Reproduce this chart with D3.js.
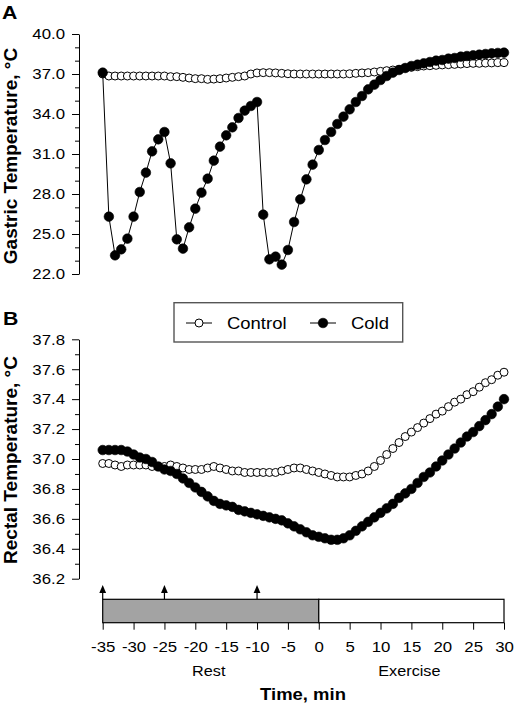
<!DOCTYPE html>
<html><head><meta charset="utf-8">
<script src="https://cdn.jsdelivr.net/npm/d3@7"></script>
<style>body{margin:0;background:#fff}svg{display:block}text{font-family:"Liberation Sans",Arial,sans-serif;fill:#000}</style>
</head><body><svg id="c" width="514" height="703"></svg>
<script>
// ---------- data ----------
const minutes = [-35,-34,-33,-32,-31,-30,-29,-28,-27,-26,-25,-24,-23,-22,-21,-20,-19,-18,-17,-16,-15,-14,-13,-12,-11,-10,-9,-8,-7,-6,-5,-4,-3,-2,-1,0,1,2,3,4,5,6,7,8,9,10,11,12,13,14,15,16,17,18,19,20,21,22,23,24,25,26,27,28,29,30];
const gastricControl = [37.0,36.85,36.85,36.85,36.85,36.85,36.85,36.85,36.85,36.85,36.85,36.8,36.8,36.75,36.7,36.65,36.65,36.6,36.62,36.65,36.7,36.75,36.8,36.85,37.0,37.08,37.1,37.1,37.08,37.05,37.02,37.0,37.0,37.0,37.0,37.0,37.0,37.0,37.0,37.0,37.02,37.05,37.08,37.1,37.15,37.2,37.25,37.3,37.35,37.45,37.5,37.55,37.6,37.62,37.65,37.68,37.7,37.72,37.75,37.78,37.8,37.8,37.82,37.83,37.85,37.85];
const gastricCold = [37.1,26.3,23.4,23.85,24.65,26.3,28.15,29.6,31.2,32.1,32.65,30.3,24.6,23.9,25.5,26.9,28.1,29.15,30.5,31.55,32.4,33.0,33.7,34.25,34.6,34.9,26.45,23.1,23.3,22.7,23.8,25.9,27.6,29.1,30.2,31.3,32.05,32.65,33.25,33.8,34.35,34.9,35.35,35.85,36.2,36.55,36.85,37.1,37.3,37.45,37.6,37.7,37.8,37.9,38.0,38.05,38.15,38.2,38.3,38.35,38.4,38.45,38.5,38.55,38.58,38.6];
const rectalControl = [36.97,36.97,36.96,36.95,36.96,36.96,36.96,36.96,36.95,36.95,36.95,36.96,36.95,36.94,36.93,36.93,36.93,36.94,36.95,36.94,36.93,36.92,36.92,36.91,36.91,36.91,36.91,36.91,36.91,36.92,36.93,36.94,36.94,36.93,36.92,36.91,36.9,36.89,36.88,36.88,36.88,36.89,36.9,36.92,36.95,36.99,37.03,37.07,37.11,37.15,37.18,37.21,37.24,37.27,37.3,37.32,37.35,37.38,37.4,37.43,37.45,37.48,37.51,37.53,37.56,37.58];
const rectalCold = [37.06,37.06,37.06,37.06,37.05,37.03,37.01,37.0,36.98,36.95,36.93,36.92,36.9,36.87,36.84,36.81,36.78,36.75,36.72,36.7,36.69,36.68,36.66,36.65,36.64,36.63,36.62,36.61,36.6,36.59,36.57,36.55,36.53,36.51,36.49,36.48,36.47,36.46,36.46,36.47,36.49,36.52,36.55,36.58,36.61,36.64,36.67,36.7,36.74,36.77,36.8,36.84,36.88,36.91,36.95,36.99,37.03,37.07,37.11,37.15,37.18,37.22,37.26,37.3,37.35,37.4];
const timeTicks = [-35,-30,-25,-20,-15,-10,-5,0,5,10,15,20,25,30];
const gastricTicks = [22,25,28,31,34,37,40];
const gastricMinor = [23,24,26,27,29,30,32,33,35,36,38,39];
const rectalTicks = [36.2,36.4,36.6,36.8,37.0,37.2,37.4,37.6,37.8];
const rectalMinor = [36.3,36.5,36.7,36.9,37.1,37.3,37.5,37.7];
const arrowTimes = [-35,-25,-10];
const phaseNames = ["Rest","Exercise"];
const phaseStart = [-35,0];
const phaseEnd = [0,30];
const phaseFill = ["#a3a3a3","#ffffff"];
const seriesNames = ["Control","Cold"];

// ---------- layout ----------
const SX = 1.12;
const FONT_TICK = 15;
const svg = d3.select("#c");
svg.append("rect").attr("width",514).attr("height",703).attr("fill","#fff");

const x = d3.scaleLinear().domain([-35,30]).range([102.7,504]);
const yA = d3.scaleLinear().domain([22,40]).range([274,34]);
const yB = d3.scaleLinear().domain([36.2,37.8]).range([578.7,339.3]);

function stext(parent,x0,y0,str,size,weight,anchor,sx){
  return parent.append("text")
    .attr("transform",`translate(${x0},${y0}) scale(${sx},1)`)
    .attr("text-anchor",anchor).attr("font-size",size).attr("font-weight",weight).text(str);
}

function yAxis(scale,major,minor,fmt){
  const g = svg.append("g").attr("transform","translate(79,0)");
  g.call(d3.axisLeft(scale).tickValues(major).tickSize(7).tickSizeOuter(0).tickPadding(7).tickFormat(d3.format(fmt)));
  g.call(s=>s.selectAll("text").attr("font-size",FONT_TICK).attr("fill","#000")
     .attr("font-family",null).attr("x",-14/SX).attr("transform",`scale(${SX},1)`));
  g.selectAll("line").attr("stroke","#000");
  g.select(".domain").attr("stroke","#000");
  const m = svg.append("g").attr("transform","translate(79,0)")
    .call(d3.axisLeft(scale).tickValues(minor).tickSize(4).tickFormat(""));
  m.select(".domain").remove();
  m.selectAll("line").attr("stroke","#000");
}
yAxis(yA,gastricTicks,gastricMinor,".1f");
yAxis(yB,rectalTicks,rectalMinor,".1f");

function series(yS,vals,filled){
  const g = svg.append("g");
  const line = d3.line().x((d,i)=>x(minutes[i])).y(d=>yS(d));
  g.append("path").attr("d",line(vals)).attr("fill","none").attr("stroke","#000").attr("stroke-width",1);
  g.selectAll("circle").data(vals).join("circle")
    .attr("cx",(d,i)=>x(minutes[i])).attr("cy",d=>yS(d))
    .attr("r",filled?4.8:4)
    .attr("fill",filled?"#000":"#fff").attr("stroke","#000").attr("stroke-width",filled?0.6:1);
}
series(yA,gastricControl,false);
series(yA,gastricCold,true);
series(yB,rectalControl,false);
series(yB,rectalCold,true);

// panel labels
stext(svg,2,18.5,"A",19,"bold","start",SX);
stext(svg,3,325,"B",19,"bold","start",SX);

// y titles
svg.append("text").attr("transform","translate(16.7,156) rotate(-90)")
  .attr("text-anchor","middle").attr("font-size",19).attr("font-weight","bold").text("Gastric Temperature, °C");
svg.append("text").attr("transform","translate(16.7,460) rotate(-90)")
  .attr("text-anchor","middle").attr("font-size",19).attr("font-weight","bold").text("Rectal Temperature, °C");

// legend
const lg = svg.append("g");
lg.append("rect").attr("x",174).attr("y",302.7).attr("width",228.7).attr("height",39.3)
  .attr("fill","#fff").attr("stroke","#555").attr("stroke-width",1.4);
const legX = [186,310];
seriesNames.forEach((n,i)=>{
  lg.append("line").attr("x1",legX[i]).attr("x2",legX[i]+26).attr("y1",323).attr("y2",323).attr("stroke","#000");
  lg.append("circle").attr("cx",legX[i]+13).attr("cy",323).attr("r",i?4.8:4)
    .attr("fill",i?"#000":"#fff").attr("stroke","#000").attr("stroke-width",i?0.6:1);
  stext(lg,legX[i]+41,329.3,n,16.5,"normal","start",SX);
});

// time bar
const bar = svg.append("g");
phaseNames.forEach((p,i)=>{
  bar.append("rect").attr("x",x(phaseStart[i])).attr("y",599.3)
    .attr("width",x(phaseEnd[i])-x(phaseStart[i])).attr("height",23.4)
    .attr("fill",phaseFill[i]).attr("stroke","#000").attr("stroke-width",1.2);
  stext(bar,(x(phaseStart[i])+x(phaseEnd[i]))/2 - 2,676,p,14.5,"normal","middle",SX);
});
const xg = svg.append("g").attr("transform","translate(0,622.7)")
  .call(d3.axisBottom(x).tickValues(timeTicks).tickSize(7).tickSizeOuter(0).tickPadding(12).tickFormat(d3.format("d")));
xg.select(".domain").remove();
xg.selectAll("line").attr("stroke","#000");
xg.selectAll("text").attr("font-size",FONT_TICK).attr("fill","#000").attr("font-family",null)
  .attr("transform",`scale(${SX},1)`).text(d=>String(d));
stext(svg,303,700,"Time, min",16.5,"bold","middle",SX);

// arrows
arrowTimes.forEach(t=>{
  const ax = x(t);
  svg.append("line").attr("x1",ax).attr("x2",ax).attr("y1",592).attr("y2",599.3).attr("stroke","#000").attr("stroke-width",1.2);
  svg.append("path").attr("d",`M${ax},585L${ax-3.4},593L${ax+3.4},593Z`).attr("fill","#000");
});
</script></body></html>
